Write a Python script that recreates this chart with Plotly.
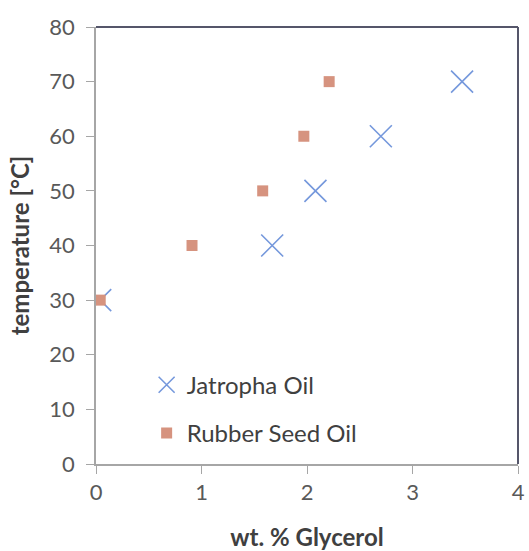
import plotly.graph_objects as go

jatropha_x = [0.04, 1.67, 2.08, 2.70, 3.47]
jatropha_y = [30, 40, 50, 60, 70]
rubber_x = [0.04, 0.91, 1.58, 1.97, 2.21]
rubber_y = [30, 40, 50, 60, 70]

fig = go.Figure()
fig.add_trace(go.Scatter(x=jatropha_x, y=jatropha_y, mode="markers", name="Jatropha Oil",
                         legendgroup="a",
                         marker=dict(symbol="x-thin-open", size=22, color="#7598dc",
                                     line=dict(width=1.6, color="#7598dc"))))
fig.add_trace(go.Scatter(x=rubber_x, y=rubber_y, mode="markers", name="Rubber Seed Oil",
                         legendgroup="b",
                         marker=dict(symbol="square", size=11, color="#d6937f")))

axis_common = dict(showgrid=False, zeroline=False, showline=True, linecolor="#a6a6a6",
                   linewidth=1.5, ticks="outside", ticklen=8, tickcolor="#a6a6a6",
                   automargin=False,
                   tickfont=dict(family="Lato", size=22, color="#595959"))
fig.update_xaxes(range=[0, 4], dtick=1, title=dict(text="wt. % Glycerol",
                 font=dict(family="Lato", size=24, color="#404040", weight="bold"), standoff=28),
                 **axis_common)
fig.update_yaxes(range=[0, 80], dtick=10, ticklabelstandoff=7,
                 title=dict(text="temperature [°C]",
                 font=dict(family="Lato", size=24, color="#404040", weight="bold"), standoff=13),
                 **axis_common)

fig.add_shape(type="line", xref="paper", yref="paper", x0=0, x1=1, y0=1, y1=1,
              line=dict(color="#55566a", width=2))
fig.add_shape(type="line", xref="paper", yref="paper", x0=1, x1=1, y0=0, y1=1,
              line=dict(color="#55566a", width=2))

fig.update_layout(
    width=529, height=551,
    margin=dict(l=96, r=11, t=27, b=87),
    paper_bgcolor="white", plot_bgcolor="white",
    showlegend=True,
    legend=dict(x=0.12, y=0.232, xanchor="left", yanchor="top", bgcolor="rgba(0,0,0,0)",
                tracegroupgap=14, itemwidth=30,
                font=dict(family="Lato", size=24, color="#404040")),
)
fig.write_html("out.html", config={"displayModeBar": False},
               post_script="document.body.style.margin='0';document.body.style.padding='0';")
